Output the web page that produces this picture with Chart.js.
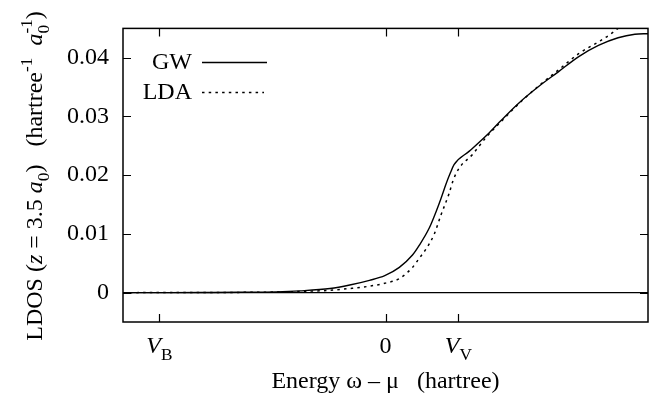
<!DOCTYPE html>
<html><head><meta charset="utf-8">
<script src="https://cdn.jsdelivr.net/npm/chart.js@4.4.1/dist/chart.umd.min.js"></script>
<style>html,body{margin:0;padding:0;background:#fff}canvas{display:block}</style>
</head>
<body>
<canvas id="c" width="654" height="393"></canvas>
<script>
// ---- data ----
const gwEnergy = [-0.36, -0.30, -0.25, -0.20, -0.15, -0.117, -0.076, -0.049, -0.022, -0.001, 0.019, 0.037, 0.046, 0.060, 0.070, 0.076, 0.083, 0.089, 0.094, 0.115, 0.142, 0.156, 0.183, 0.210, 0.237, 0.265, 0.292, 0.319, 0.342, 0.36];
const gwLdos    = [0, 0.00001, 0.00003, 0.00006, 0.00013, 0.0003, 0.0007, 0.0013, 0.0021, 0.0029, 0.0043, 0.0064, 0.0080, 0.0110, 0.0140, 0.0160, 0.0185, 0.0204, 0.0218, 0.0241, 0.0272, 0.0290, 0.0323, 0.0351, 0.0376, 0.0402, 0.0421, 0.0434, 0.0440, 0.0441];
const ldaEnergy = [-0.36, -0.25, -0.15, -0.117, -0.076, -0.049, -0.022, -0.001, 0.019, 0.037, 0.046, 0.057, 0.067, 0.076, 0.087, 0.093, 0.101, 0.119, 0.139, 0.156, 0.183, 0.210, 0.237, 0.265, 0.292, 0.306, 0.319, 0.333];
const ldaLdos   = [0, 0.00002, 0.0001, 0.0002, 0.0004, 0.0007, 0.0011, 0.0016, 0.0024, 0.0043, 0.0058, 0.0077, 0.0100, 0.0132, 0.0168, 0.0192, 0.0212, 0.0235, 0.0266, 0.0288, 0.0322, 0.0352, 0.0379, 0.0407, 0.0427, 0.0438, 0.0450, 0.0462];
const seriesNames = ['GW', 'LDA'];
const yTickValues = [0, 0.01, 0.02, 0.03, 0.04];
const xTickValues = [-0.31, 0, 0.1];
const xTickLabels = [
  [{t:'V', it:true}, {t:'B', s:'sub'}],
  [{t:'0'}],
  [{t:'V', it:true}, {t:'V', s:'sub'}]
];
const xTitle = [{t:'Energy \u03c9 \u2013 \u03bc   (hartree)'}];
const yTitle = [
  {t:'LDOS ('}, {t:'z', it:true}, {t:' = 3.5 '}, {t:'a', it:true}, {t:'0', s:'sub'},
  {t:')   (hartree'}, {t:'-1', s:'sup'}, {t:'  '}, {t:'a', it:true}, {t:'0', s:'sub'},
  {t:'-1', s:'sup', stack:true}, {t:')'}
];

const FONT = "'Liberation Serif', 'Times New Roman', serif";
const FS = 24;

function segFont(seg, size) {
  const sz = seg.s ? size * 0.72 : size;
  return (seg.it ? 'italic ' : '') + sz + 'px ' + FONT;
}
function layoutRich(ctx, segs, size) {
  let x = 0, lastStart = 0, out = [];
  for (const seg of segs) {
    ctx.font = segFont(seg, size);
    const w = ctx.measureText(seg.t).width;
    const sx = seg.stack ? lastStart : x;
    const dy = seg.s === 'sub' ? size * 0.28 : seg.s === 'sup' ? -size * 0.42 : 0;
    out.push({seg, x: sx, dy, w});
    if (seg.stack) { x = Math.max(x, sx + w); }
    else { lastStart = sx; x = sx + w; }
  }
  return {items: out, width: x};
}
function drawRich(ctx, segs, x, y, size, align) {
  const L = layoutRich(ctx, segs, size);
  let x0 = x;
  if (align === 'center') x0 = x - L.width / 2;
  else if (align === 'right') x0 = x - L.width;
  ctx.textBaseline = 'alphabetic';
  ctx.textAlign = 'left';
  for (const it of L.items) {
    ctx.font = segFont(it.seg, size);
    ctx.fillText(it.seg.t, x0 + it.x, y + it.dy);
  }
}

const framePlugin = {
  id: 'frame',
  afterDraw(chart) {
    const ctx = chart.ctx, a = chart.chartArea;
    const xs = chart.scales.x, ys = chart.scales.y;
    ctx.save();
    ctx.strokeStyle = '#000';
    ctx.fillStyle = '#000';
    ctx.lineWidth = 1.5;
    ctx.strokeRect(a.left, a.top, a.right - a.left, a.bottom - a.top);
    const TL = 8;
    ctx.lineWidth = 1.2;
    ctx.beginPath();
    for (const v of yTickValues) {
      const py = Math.round(ys.getPixelForValue(v)) + 0.5;
      ctx.moveTo(a.left, py); ctx.lineTo(a.left + TL, py);
      ctx.moveTo(a.right, py); ctx.lineTo(a.right - TL, py);
    }
    for (const v of xTickValues) {
      const px = Math.round(xs.getPixelForValue(v)) + 0.5;
      ctx.moveTo(px, a.bottom); ctx.lineTo(px, a.bottom - TL);
      ctx.moveTo(px, a.top); ctx.lineTo(px, a.top + TL);
    }
    ctx.stroke();
    // x tick labels
    xTickValues.forEach((v, i) => {
      drawRich(ctx, xTickLabels[i], xs.getPixelForValue(v), 353, FS, 'center');
    });
    // x title
    drawRich(ctx, xTitle, (a.left + a.right) / 2, 388, FS, 'center');
    // y title (rotated)
    ctx.save();
    ctx.translate(42, 176);
    ctx.rotate(-Math.PI / 2);
    drawRich(ctx, yTitle, 0, 0, FS, 'center');
    ctx.restore();
    // legend
    const rows = [62, 92];
    chart.data.datasets.forEach((ds, i) => {
      ctx.font = FS + 'px ' + FONT;
      ctx.textAlign = 'right';
      ctx.textBaseline = 'middle';
      ctx.fillText(seriesNames[i], 192, rows[i] + 1);
      ctx.beginPath();
      ctx.lineWidth = ds.borderWidth;
      ctx.setLineDash(ds.borderDash || []);
      ctx.moveTo(202, rows[i] + 0.5);
      ctx.lineTo(i === 0 ? 267 : 264, rows[i] + 0.5);
      ctx.stroke();
    });
    ctx.restore();
  }
};

new Chart(document.getElementById('c'), {
  type: 'line',
  data: {
    datasets: [
      { label: seriesNames[0], data: gwEnergy.map((x, i) => ({x, y: gwLdos[i]})),
        borderColor: '#000', borderWidth: 1.4, pointRadius: 0, fill: false,
        cubicInterpolationMode: 'monotone' },
      { label: seriesNames[1], data: ldaEnergy.map((x, i) => ({x, y: ldaLdos[i]})),
        borderColor: '#000', borderWidth: 1.5, borderDash: [2.5, 4.2], pointRadius: 0, fill: false,
        cubicInterpolationMode: 'monotone' }
    ]
  },
  options: {
    responsive: false,
    animation: false,
    devicePixelRatio: 1,
    layout: { padding: { left: 0, top: 26, right: 6, bottom: 71 } },
    plugins: { legend: { display: false }, tooltip: { enabled: false } },
    scales: {
      x: { type: 'linear', min: -0.36, max: 0.36, display: false },
      y: {
        type: 'linear', min: -0.005, max: 0.045,
        afterBuildTicks: s => { s.ticks = yTickValues.map(v => ({value: v})); },
        afterFit: s => { s.width = 123; },
        border: { display: false },
        grid: { drawTicks: false, lineWidth: 1.2,
                color: c => (c.tick && c.tick.value === 0) ? '#000' : 'rgba(0,0,0,0)' },
        ticks: { padding: 14, color: '#000', font: { family: FONT, size: FS },
                 callback: v => v === 0 ? '0' : v.toFixed(2) }
      }
    }
  },
  plugins: [framePlugin]
});
</script>
</body></html>
